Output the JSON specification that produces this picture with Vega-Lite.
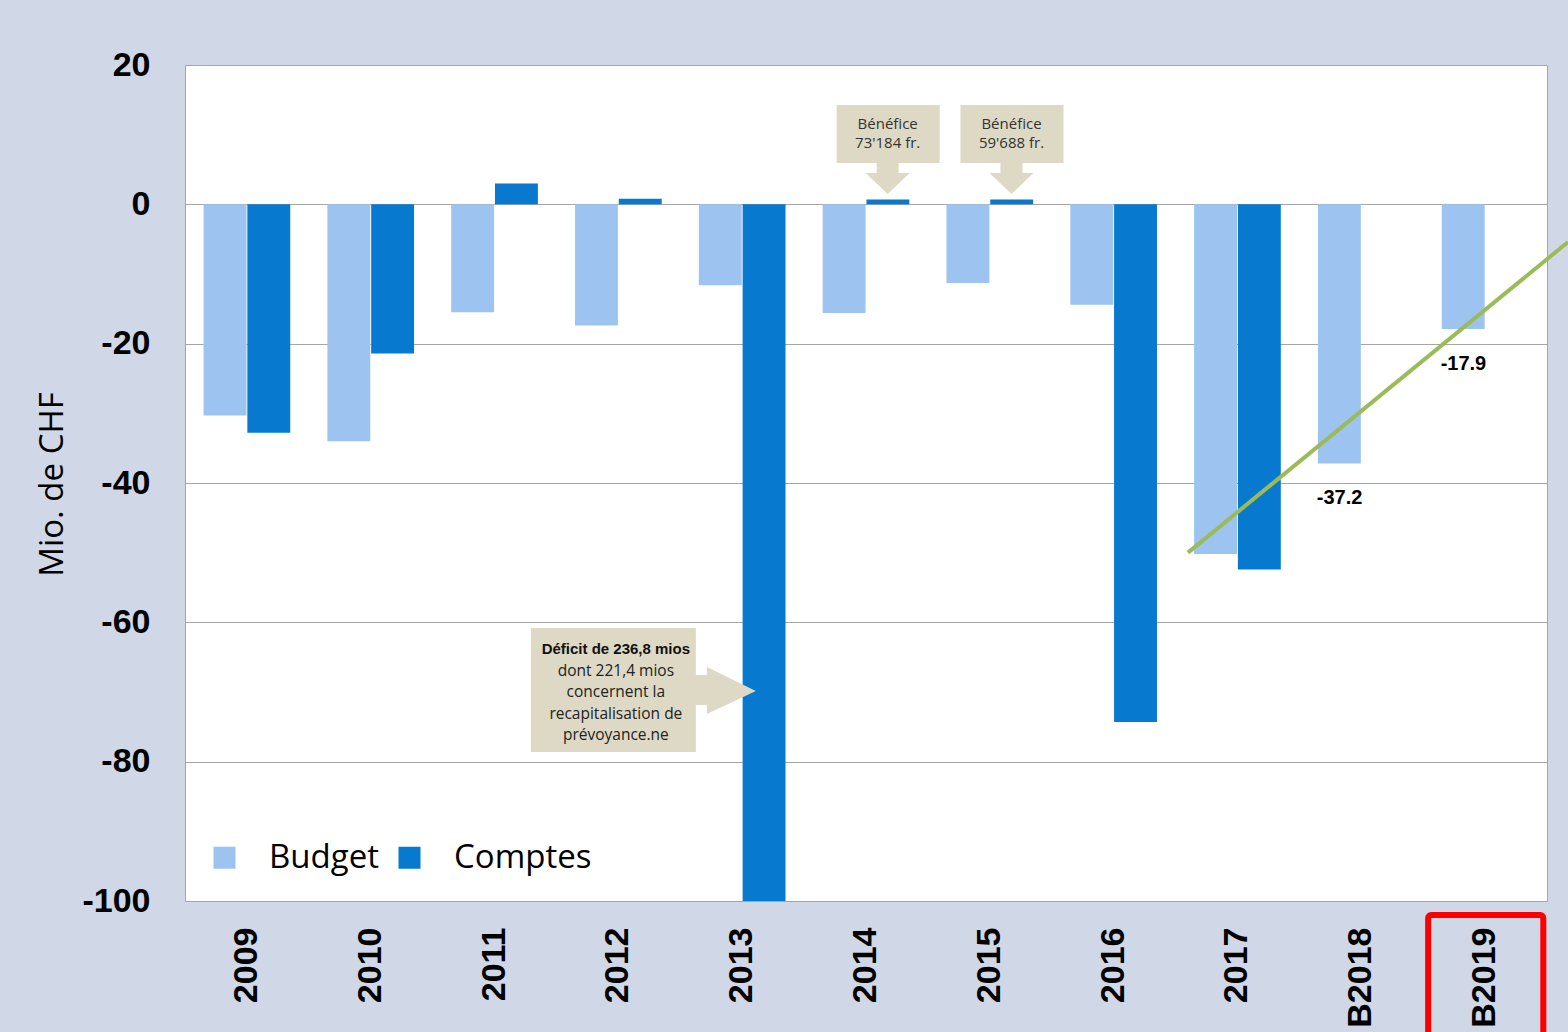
{
  "$schema": "https://vega.github.io/schema/vega-lite/v6.json",
  "width": 1362,
  "height": 836,
  "autosize": {"type": "none"},
  "padding": {"left": 185, "top": 65, "right": 21, "bottom": 131},
  "background": "#D0D8E7",
  "config": {
    "view": {"fill": "#FFFFFF", "stroke": "#A6A6A6", "strokeWidth": 1},
    "font": "Open Sans"
  },
  "datasets": {
    "bars": [
      {"annee": "2009", "serie": "Budget", "valeur": -30.3},
      {"annee": "2009", "serie": "Comptes", "valeur": -32.8},
      {"annee": "2010", "serie": "Budget", "valeur": -34.0},
      {"annee": "2010", "serie": "Comptes", "valeur": -21.4},
      {"annee": "2011", "serie": "Budget", "valeur": -15.5},
      {"annee": "2011", "serie": "Comptes", "valeur": 3.0},
      {"annee": "2012", "serie": "Budget", "valeur": -17.4},
      {"annee": "2012", "serie": "Comptes", "valeur": 0.8},
      {"annee": "2013", "serie": "Budget", "valeur": -11.6},
      {"annee": "2013", "serie": "Comptes", "valeur": -236.8},
      {"annee": "2014", "serie": "Budget", "valeur": -15.6},
      {"annee": "2014", "serie": "Comptes", "valeur": 0.7},
      {"annee": "2015", "serie": "Budget", "valeur": -11.3},
      {"annee": "2015", "serie": "Comptes", "valeur": 0.7},
      {"annee": "2016", "serie": "Budget", "valeur": -14.4},
      {"annee": "2016", "serie": "Comptes", "valeur": -74.3},
      {"annee": "2017", "serie": "Budget", "valeur": -50.2},
      {"annee": "2017", "serie": "Comptes", "valeur": -52.4},
      {"annee": "B2018", "serie": "Budget", "valeur": -37.2},
      {"annee": "B2019", "serie": "Budget", "valeur": -17.9}
    ]
  },
  "layer": [
    {
      "data": {"name": "bars"},
      "mark": {"type": "bar", "clip": true},
      "encoding": {
        "x": {
          "field": "annee", "type": "nominal",
          "scale": {"domain": ["2009","2010","2011","2012","2013","2014","2015","2016","2017","B2018","B2019"], "paddingInner": 0.3, "paddingOuter": 0.15},
          "axis": {"title": null, "labelAngle": 270, "labelFont": "Liberation Sans", "labelFontSize": 34, "labelFontWeight": "bold", "labelColor": "#000000", "labelPadding": 26, "domain": false, "ticks": false}
        },
        "xOffset": {"field": "serie", "type": "nominal", "scale": {"domain": ["Budget", "Comptes"], "paddingInner": 0.02}},
        "y": {
          "field": "valeur", "type": "quantitative",
          "scale": {"domain": [-100, 20], "nice": false},
          "axis": {"values": [-100,-80,-60,-40,-20,0,20], "labelExpr": "'' + datum.value", "grid": true, "gridColor": "#A6A6A6", "gridWidth": 1, "domain": false, "ticks": false,
                   "labelFont": "Liberation Sans", "labelFontSize": 34, "labelFontWeight": "bold", "labelColor": "#000000", "labelPadding": 35,
                   "title": "Mio. de CHF", "titleFont": "Open Sans", "titleFontSize": 33, "titleFontWeight": "normal", "titleColor": "#000000",
                   "titleX": -133, "titleY": 419, "titleAngle": 270, "titleAlign": "center", "titleBaseline": "middle"}
        },
        "color": {
          "field": "serie", "type": "nominal",
          "scale": {"domain": ["Budget", "Comptes"], "range": ["#9DC3F0", "#0779CF"]},
          "legend": {"orient": "none", "legendX": 23, "legendY": 776, "direction": "horizontal", "title": null, "symbolType": "square", "symbolSize": 484, "symbolStrokeWidth": 0, "labelFont": "Open Sans", "labelFontSize": 33, "labelColor": "#000000", "labelOffset": 28, "columnPadding": 14, "padding": 0}
        }
      }
    },
    {
      "data": {"values": [
        {"annee": "2014", "serie": "Comptes", "valeur": 1.48, "texte": "Bénéfice\n73'184 fr."},
        {"annee": "2015", "serie": "Comptes", "valeur": 1.48, "texte": "Bénéfice\n59'688 fr."}
      ]},
      "layer": [
        {
          "mark": {"type": "point", "shape": "M-1.02,-1.78L1.04,-1.78L1.04,-0.62L0.22,-0.62L0.22,-0.42L0.44,-0.42L0,0L-0.44,-0.42L-0.22,-0.42L-0.22,-0.62L-1.02,-0.62Z", "size": 10000, "filled": true, "color": "#DDD9C4", "opacity": 1, "strokeWidth": 0},
          "encoding": {
            "x": {"field": "annee", "type": "nominal", "scale": {"domain": ["2009","2010","2011","2012","2013","2014","2015","2016","2017","B2018","B2019"], "paddingInner": 0.3, "paddingOuter": 0.15}, "axis": null},
            "xOffset": {"field": "serie", "type": "nominal", "scale": {"domain": ["Budget", "Comptes"], "paddingInner": 0.02}},
            "y": {"field": "valeur", "type": "quantitative", "scale": {"domain": [-100, 20], "nice": false}}
          }
        },
        {
          "mark": {"type": "text", "dy": -70, "fontSize": 15, "lineHeight": 19, "color": "#333333", "baseline": "middle", "align": "center", "lineBreak": "\n"},
          "encoding": {
            "x": {"field": "annee", "type": "nominal", "scale": {"domain": ["2009","2010","2011","2012","2013","2014","2015","2016","2017","B2018","B2019"], "paddingInner": 0.3, "paddingOuter": 0.15}, "axis": null},
            "xOffset": {"field": "serie", "type": "nominal", "scale": {"domain": ["Budget", "Comptes"], "paddingInner": 0.02}},
            "y": {"field": "valeur", "type": "quantitative", "scale": {"domain": [-100, 20], "nice": false}},
            "text": {"field": "texte"}
          }
        }
      ]
    },
    {
      "data": {"values": [
        {"annee": "2013", "serie": "Comptes", "valeur": -69.86, "titre": "Déficit de 236,8 mios", "texte": "dont 221,4 mios\nconcernent la\nrecapitalisation de\nprévoyance.ne"}
      ]},
      "layer": [
        {
          "mark": {"type": "point", "shape": "M-4.66,-1.26L-1.36,-1.26L-1.36,-0.32L-1.14,-0.32L-1.14,-0.48L-0.16,0L-1.14,0.46L-1.14,0.28L-1.36,0.28L-1.36,1.22L-4.66,1.22Z", "size": 10000, "filled": true, "color": "#DDD9C4", "opacity": 1, "strokeWidth": 0},
          "encoding": {
            "x": {"field": "annee", "type": "nominal", "scale": {"domain": ["2009","2010","2011","2012","2013","2014","2015","2016","2017","B2018","B2019"], "paddingInner": 0.3, "paddingOuter": 0.15}, "axis": null},
            "xOffset": {"field": "serie", "type": "nominal", "scale": {"domain": ["Budget", "Comptes"], "paddingInner": 0.02}},
            "y": {"field": "valeur", "type": "quantitative", "scale": {"domain": [-100, 20], "nice": false}}
          }
        },
        {
          "mark": {"type": "text", "dx": -148, "dy": -42, "font": "Liberation Sans", "fontSize": 15, "fontWeight": "bold", "color": "#111111", "baseline": "middle", "align": "center"},
          "encoding": {
            "x": {"field": "annee", "type": "nominal", "scale": {"domain": ["2009","2010","2011","2012","2013","2014","2015","2016","2017","B2018","B2019"], "paddingInner": 0.3, "paddingOuter": 0.15}, "axis": null},
            "xOffset": {"field": "serie", "type": "nominal", "scale": {"domain": ["Budget", "Comptes"], "paddingInner": 0.02}},
            "y": {"field": "valeur", "type": "quantitative", "scale": {"domain": [-100, 20], "nice": false}},
            "text": {"field": "titre"}
          }
        },
        {
          "mark": {"type": "text", "dx": -148, "dy": -20, "font": "Open Sans", "fontSize": 15.5, "lineHeight": 21.3, "color": "#222222", "baseline": "middle", "align": "center", "lineBreak": "\n"},
          "encoding": {
            "x": {"field": "annee", "type": "nominal", "scale": {"domain": ["2009","2010","2011","2012","2013","2014","2015","2016","2017","B2018","B2019"], "paddingInner": 0.3, "paddingOuter": 0.15}, "axis": null},
            "xOffset": {"field": "serie", "type": "nominal", "scale": {"domain": ["Budget", "Comptes"], "paddingInner": 0.02}},
            "y": {"field": "valeur", "type": "quantitative", "scale": {"domain": [-100, 20], "nice": false}},
            "text": {"field": "texte"}
          }
        }
      ]
    },
    {
      "data": {"values": [
        {"pos": 8.1, "valeur": -50.0},
        {"pos": 11.17, "valeur": -5.4}
      ]},
      "mark": {"type": "line", "color": "#9BBB59", "strokeWidth": 4, "clip": false},
      "encoding": {
        "x": {"field": "pos", "type": "quantitative", "scale": {"domain": [0, 11], "nice": false, "zero": false}, "axis": null},
        "y": {"field": "valeur", "type": "quantitative", "scale": {"domain": [-100, 20], "nice": false}}
      }
    },
    {
      "data": {"values": [
        {"annee": "B2018", "serie": "Budget", "valeur": -37.2, "texte": "-37.2"},
        {"annee": "B2019", "serie": "Budget", "valeur": -17.9, "texte": "-17.9"}
      ]},
      "mark": {"type": "text", "dy": 35, "font": "Liberation Sans", "fontSize": 20, "fontWeight": "bold", "color": "#000000", "baseline": "middle", "align": "center"},
      "encoding": {
        "x": {"field": "annee", "type": "nominal", "scale": {"domain": ["2009","2010","2011","2012","2013","2014","2015","2016","2017","B2018","B2019"], "paddingInner": 0.3, "paddingOuter": 0.15}, "axis": null},
        "xOffset": {"field": "serie", "type": "nominal", "scale": {"domain": ["Budget", "Comptes"], "paddingInner": 0.02}},
        "y": {"field": "valeur", "type": "quantitative", "scale": {"domain": [-100, 20], "nice": false}},
        "text": {"field": "texte"}
      }
    },
    {
      "data": {"values": [
        {"debut": 10.04, "fin": 10.97, "haut": -102.0, "bas": -120.0}
      ]},
      "mark": {"type": "rect", "filled": false, "color": "#FF0000", "strokeWidth": 6, "cornerRadius": 3, "clip": false},
      "encoding": {
        "x": {"field": "debut", "type": "quantitative", "scale": {"domain": [0, 11], "nice": false, "zero": false}, "axis": null},
        "x2": {"field": "fin"},
        "y": {"field": "haut", "type": "quantitative", "scale": {"domain": [-100, 20], "nice": false}},
        "y2": {"field": "bas"}
      }
    }
  ],
  "resolve": {"scale": {"x": "independent", "xOffset": "independent"}, "axis": {"x": "independent"}}
}
